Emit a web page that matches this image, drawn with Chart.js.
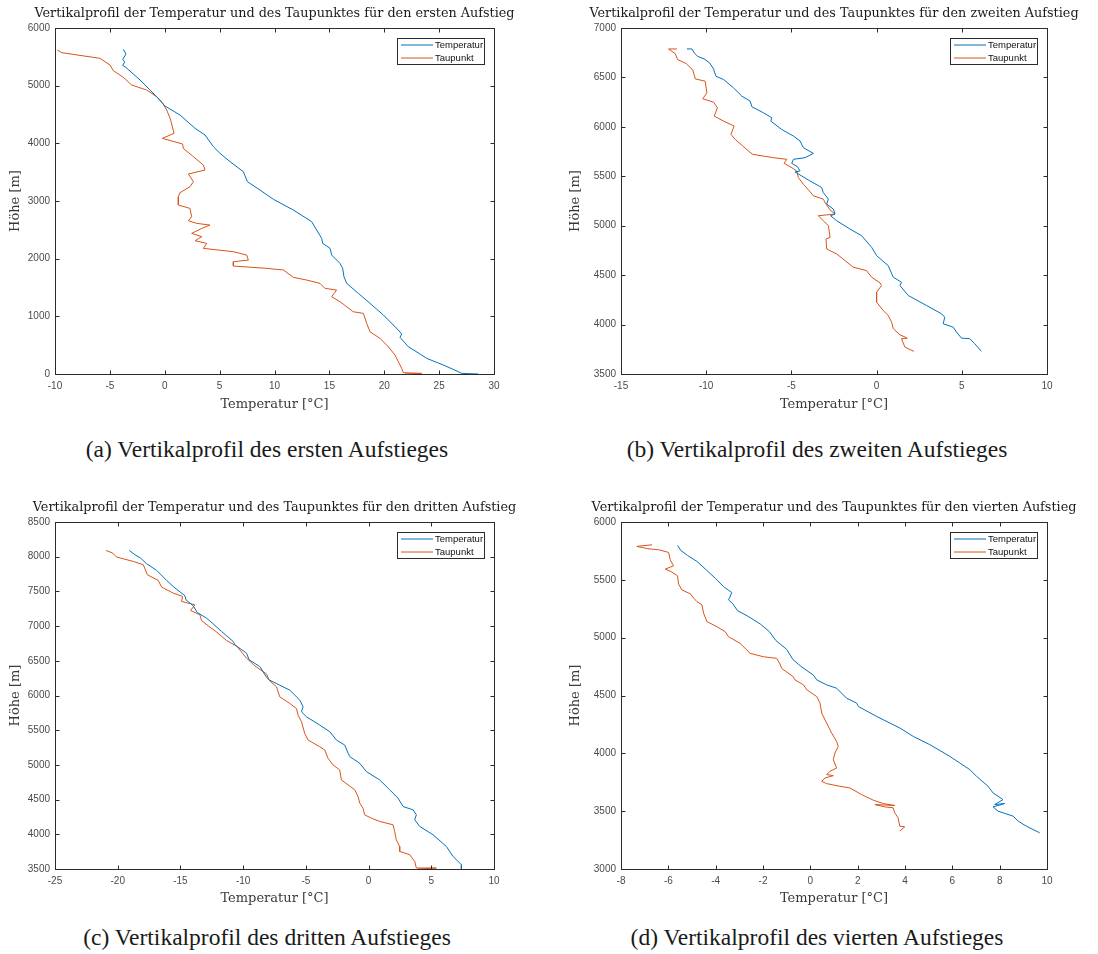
<!DOCTYPE html>
<html lang="de">
<head>
<meta charset="utf-8">
<title>Vertikalprofile der Aufstiege</title>
<script src="https://cdn.jsdelivr.net/npm/chart.js@4.4.1/dist/chart.umd.min.js"></script>
<style>
  html, body { margin: 0; padding: 0; background: #fff; }
  body { width: 1098px; height: 954px; position: relative; overflow: hidden; }
  canvas { position: absolute; }
  .caption {
    position: absolute; width: 500px; text-align: center; white-space: nowrap;
    font-family: "Liberation Serif", "Times New Roman", serif; font-size: 23.5px; color: #1a1a1a;
    line-height: 26px;
  }
</style>
</head>
<body>
<canvas id="plotA" width="550" height="420" style="left:0;top:0"></canvas>
<canvas id="plotB" width="538" height="420" style="left:560px;top:0"></canvas>
<canvas id="plotC" width="550" height="420" style="left:0;top:494px"></canvas>
<canvas id="plotD" width="538" height="420" style="left:560px;top:494px"></canvas>
<div class="caption" id="capA" style="left:17px;top:436px"></div>
<div class="caption" id="capB" style="left:567px;top:436px"></div>
<div class="caption" id="capC" style="left:17px;top:924px"></div>
<div class="caption" id="capD" style="left:567px;top:924px"></div>
<script>
// Profile data: [Temperatur in °C, Höhe in m], listed from the top of each ascent downwards.
const aufstieg1Temperatur = [[-3.77,5630],[-3.53,5549],[-3.83,5456],[-3.65,5410],[-3.83,5352],[-3.62,5329],[-2.25,5098],[-0.89,4838],[0.02,4647],[1.39,4491],[2.76,4260],[3.67,4144],[4.43,3942],[5.04,3826],[5.95,3682],[7.16,3508],[7.53,3335],[8.68,3190],[9.90,3029],[11.72,2843],[13.39,2641],[13.84,2496],[14.30,2352],[14.39,2265],[15.06,2179],[15.21,2063],[15.97,1918],[16.21,1832],[16.33,1687],[16.58,1572],[17.64,1398],[18.70,1225],[19.92,1023],[21.28,762],[21.59,693],[21.44,635],[22.19,473],[23.41,329],[23.87,271],[25.38,156],[26.75,40],[27.05,11],[28.57,0]];
const aufstieg1Taupunkt = [[-9.79,5618],[-9.39,5572],[-5.90,5474],[-4.99,5358],[-4.68,5260],[-3.77,5144],[-3.01,5011],[-1.65,4924],[-0.74,4809],[-0.28,4722],[0.18,4578],[0.54,4404],[0.84,4173],[-0.22,4086],[1.63,3988],[1.69,3913],[2.61,3768],[3.52,3624],[3.67,3537],[2.15,3468],[2.61,3335],[2.30,3248],[1.39,3144],[1.24,3074],[1.24,2930],[2.30,2872],[2.45,2728],[2.15,2658],[2.91,2612],[4.12,2583],[3.37,2525],[2.45,2439],[3.37,2381],[2.76,2311],[3.82,2265],[3.52,2179],[6.25,2121],[7.46,2063],[7.62,1976],[6.25,1947],[6.25,1872],[9.29,1832],[10.81,1803],[11.72,1676],[12.93,1629],[14.15,1572],[14.60,1485],[15.66,1456],[15.21,1340],[15.97,1254],[17.18,1080],[18.10,1051],[18.40,878],[18.70,734],[19.61,618],[20.37,473],[20.98,329],[21.28,213],[21.59,98],[21.74,23],[23.41,11],[21.89,0]];

const aufstieg2Temperatur = [[-11.13,6788],[-10.84,6788],[-10.70,6748],[-10.51,6714],[-10.12,6687],[-9.80,6647],[-9.57,6586],[-9.43,6512],[-8.98,6479],[-8.40,6395],[-7.91,6311],[-7.42,6260],[-7.32,6203],[-6.64,6142],[-6.15,6092],[-6.21,6058],[-5.57,5974],[-4.88,5907],[-4.49,5857],[-4.30,5789],[-3.71,5732],[-4.20,5688],[-4.88,5672],[-4.98,5631],[-4.65,5598],[-4.49,5554],[-4.79,5544],[-3.91,5453],[-3.22,5386],[-3.13,5336],[-2.83,5269],[-2.93,5219],[-2.54,5168],[-2.44,5118],[-2.70,5101],[-2.34,5050],[-1.56,4966],[-0.88,4899],[-0.29,4781],[0.00,4697],[0.68,4596],[0.98,4479],[1.46,4428],[1.37,4395],[1.86,4294],[2.93,4193],[3.81,4109],[4.00,4075],[3.91,4008],[4.49,3974],[4.69,3924],[4.98,3863],[5.47,3857],[5.76,3806],[6.15,3729]];
const aufstieg2Taupunkt = [[-11.72,6788],[-12.21,6788],[-11.82,6741],[-11.68,6681],[-11.17,6640],[-10.78,6573],[-10.64,6485],[-10.06,6462],[-9.96,6344],[-10.20,6284],[-9.57,6250],[-9.34,6193],[-9.53,6109],[-8.98,6058],[-8.36,6008],[-8.55,5924],[-8.30,5873],[-7.85,5806],[-7.52,5756],[-7.27,5722],[-6.05,5688],[-5.27,5672],[-5.43,5631],[-5.08,5598],[-4.69,5554],[-4.59,5487],[-4.30,5419],[-4.00,5362],[-3.71,5303],[-3.13,5269],[-2.97,5219],[-2.73,5160],[-2.44,5118],[-3.42,5101],[-3.13,5050],[-2.83,5000],[-2.73,4882],[-2.97,4865],[-2.93,4765],[-2.34,4714],[-1.85,4647],[-1.37,4580],[-0.59,4546],[-0.29,4479],[0.20,4422],[0.29,4395],[0.00,4327],[0.00,4227],[0.39,4142],[0.68,4092],[0.88,4025],[0.98,3958],[1.37,3897],[1.80,3863],[1.46,3857],[1.66,3772],[2.19,3729]];

const aufstieg3Temperatur = [[-19.08,8091],[-18.63,8029],[-18.18,7981],[-17.70,7899],[-16.90,7803],[-16.10,7658],[-15.52,7562],[-14.64,7437],[-14.56,7379],[-13.98,7293],[-13.66,7196],[-12.92,7115],[-12.39,7033],[-11.72,6922],[-10.79,6778],[-10.66,6730],[-9.73,6610],[-9.52,6514],[-8.67,6417],[-8.14,6263],[-7.87,6220],[-7.08,6148],[-6.28,6077],[-5.48,5933],[-5.22,5837],[-5.35,5765],[-4.95,5693],[-3.89,5574],[-3.09,5478],[-2.56,5358],[-1.90,5286],[-1.63,5167],[-1.50,5119],[-0.70,5023],[-0.17,4903],[0.89,4783],[1.69,4640],[2.35,4520],[2.75,4400],[3.55,4352],[3.81,4280],[3.68,4209],[4.08,4113],[5.14,3993],[6.20,3825],[6.73,3682],[7.40,3562],[7.40,3500]];
const aufstieg3Taupunkt = [[-20.94,8091],[-20.41,8053],[-20.09,7995],[-18.76,7932],[-17.96,7884],[-17.64,7740],[-16.77,7658],[-16.50,7562],[-15.57,7475],[-14.83,7427],[-14.91,7355],[-13.85,7307],[-14.19,7225],[-13.45,7163],[-13.32,7081],[-12.79,7004],[-12.17,6922],[-11.32,6792],[-10.48,6706],[-9.73,6538],[-9.07,6427],[-8.14,6311],[-7.93,6220],[-7.34,6125],[-7.08,5981],[-6.28,5885],[-5.75,5813],[-5.62,5717],[-5.35,5622],[-5.09,5454],[-4.82,5358],[-3.89,5262],[-3.49,5214],[-3.23,5095],[-2.83,4999],[-2.30,4927],[-2.17,4783],[-1.63,4712],[-1.10,4640],[-0.84,4544],[-0.70,4448],[-0.44,4376],[-0.31,4280],[0.23,4232],[0.89,4185],[1.95,4137],[2.08,4041],[2.21,3921],[2.48,3825],[2.48,3753],[3.28,3706],[3.68,3610],[3.81,3514],[5.40,3514],[3.94,3500]];

const aufstieg4Temperatur = [[-5.61,5798],[-5.47,5754],[-5.19,5711],[-4.79,5659],[-4.37,5581],[-4.02,5514],[-3.67,5442],[-3.32,5390],[-3.42,5341],[-3.46,5327],[-3.27,5292],[-3.08,5234],[-2.66,5188],[-2.12,5119],[-1.73,5052],[-1.45,4974],[-1.00,4899],[-0.74,4812],[-0.41,4754],[0.13,4676],[0.27,4635],[0.69,4592],[1.11,4563],[1.53,4477],[1.96,4434],[2.03,4405],[2.80,4319],[3.79,4218],[4.35,4146],[5.05,4075],[5.89,3974],[6.74,3859],[7.02,3802],[7.51,3715],[7.72,3658],[8.14,3600],[7.79,3557],[8.21,3566],[7.72,3537],[7.93,3500],[8.57,3457],[8.78,3414],[9.13,3370],[9.69,3313]];
const aufstieg4Taupunkt = [[-6.69,5803],[-7.33,5789],[-6.87,5769],[-6.41,5760],[-5.99,5737],[-5.92,5673],[-5.78,5621],[-6.13,5593],[-5.89,5572],[-5.61,5535],[-5.57,5465],[-5.43,5413],[-5.07,5379],[-4.93,5341],[-4.79,5312],[-4.58,5283],[-4.51,5211],[-4.37,5139],[-3.95,5095],[-3.60,5052],[-3.46,5009],[-2.97,4951],[-2.54,4864],[-1.98,4835],[-1.42,4821],[-1.28,4772],[-1.21,4734],[-0.72,4662],[-0.65,4635],[-0.29,4592],[-0.15,4549],[0.27,4491],[0.41,4434],[0.48,4348],[0.69,4261],[0.90,4175],[1.11,4103],[1.18,4060],[1.04,4003],[0.97,3945],[1.11,3873],[0.83,3845],[0.69,3816],[0.97,3807],[0.62,3787],[0.48,3758],[0.69,3738],[1.25,3715],[1.67,3701],[2.16,3644],[2.66,3595],[3.08,3566],[3.57,3549],[2.73,3557],[3.15,3537],[3.50,3529],[3.57,3485],[3.71,3442],[3.78,3370],[3.99,3365],[3.78,3327]];

// Axis ranges and tick spacing per ascent: [min, max, step]
const xBereiche = [[-10, 30, 5], [-15, 10, 5], [-25, 10, 5], [-8, 10, 2]];
const yBereiche = [[0, 6000, 1000], [3500, 7000, 500], [3500, 8500, 500], [3000, 6000, 500]];

const ordinalwoerter = ['ersten', 'zweiten', 'dritten', 'vierten'];
const buchstaben = ['a', 'b', 'c', 'd'];
const serienNamen = ['Temperatur', 'Taupunkt'];
const serienFarben = ['#0072BD', '#D95319'];
const xTitel = 'Temperatur [°C]';
const yTitel = 'Höhe [m]';

const profile = [
  [aufstieg1Temperatur, aufstieg1Taupunkt],
  [aufstieg2Temperatur, aufstieg2Taupunkt],
  [aufstieg3Temperatur, aufstieg3Taupunkt],
  [aufstieg4Temperatur, aufstieg4Taupunkt]
];

const AXIS_COLOR = '#2b2b2b';
const TICK_COLOR = '#4a4a4a';

// Title centred over the plot area
const plotTitle = {
  id: 'plotTitle',
  afterDraw(chart, args, opts) {
    const { ctx, chartArea: a } = chart;
    ctx.save();
    ctx.font = '12.8px "DejaVu Serif", serif';
    ctx.fillStyle = '#1a1a1a';
    ctx.textAlign = 'center';
    ctx.textBaseline = 'middle';
    ctx.fillText(opts.text, (a.left + a.right) / 2, a.top - 14);
    ctx.restore();
  }
};

// Boxed axes with inward tick marks on all four sides
const axesBox = {
  id: 'axesBox',
  afterDraw(chart) {
    const { ctx, chartArea: a, scales } = chart;
    const L = Math.round(a.left) + 0.5, R = Math.round(a.right) + 0.5;
    const T = Math.round(a.top) + 0.5, B = Math.round(a.bottom) + 0.5;
    const len = 4;
    ctx.save();
    ctx.strokeStyle = AXIS_COLOR;
    ctx.lineWidth = 1;
    ctx.beginPath();
    scales.x.ticks.forEach(t => {
      const px = Math.round(scales.x.getPixelForValue(t.value)) + 0.5;
      ctx.moveTo(px, B); ctx.lineTo(px, B - len);
      ctx.moveTo(px, T); ctx.lineTo(px, T + len);
    });
    scales.y.ticks.forEach(t => {
      const py = Math.round(scales.y.getPixelForValue(t.value)) + 0.5;
      ctx.moveTo(L, py); ctx.lineTo(L + len, py);
      ctx.moveTo(R, py); ctx.lineTo(R - len, py);
    });
    ctx.stroke();
    ctx.strokeRect(L, T, R - L, B - T);
    ctx.restore();
  }
};

// Boxed legend in the upper right corner of the plot area
const boxLegend = {
  id: 'boxLegend',
  afterDatasetsDraw(chart) {
    const { ctx, chartArea: a } = chart;
    const w = 87, h = 26;
    const x = Math.round(a.right) - 10 - w, y = Math.round(a.top) + 10;
    ctx.save();
    ctx.fillStyle = '#fff';
    ctx.fillRect(x, y, w, h);
    ctx.strokeStyle = AXIS_COLOR;
    ctx.lineWidth = 1;
    ctx.strokeRect(x + 0.5, y + 0.5, w, h);
    ctx.font = '9.5px "Liberation Sans", Arial, sans-serif';
    ctx.textBaseline = 'middle';
    chart.data.datasets.forEach((ds, i) => {
      const ly = y + 7 + i * 13;
      ctx.strokeStyle = ds.borderColor;
      ctx.beginPath();
      ctx.moveTo(x + 4, ly); ctx.lineTo(x + 36, ly);
      ctx.stroke();
      ctx.fillStyle = '#111';
      ctx.fillText(ds.label, x + 38, ly + 0.5);
    });
    ctx.restore();
  }
};

function makePlot(canvasId, idx, yAxisWidth, xAxisHeight) {
  const canvas = document.getElementById(canvasId);
  const [xmin, xmax, xstep] = xBereiche[idx];
  const [ymin, ymax, ystep] = yBereiche[idx];
  const rightPad = canvas.width - (yAxisWidth + (canvas.width === 550 ? 439 : 426));
  return new Chart(canvas, {
    type: 'scatter',
    data: {
      datasets: profile[idx].map((serie, i) => ({
        label: serienNamen[i],
        data: serie.map(([t, h]) => ({ x: t, y: h })),
        showLine: true,
        borderColor: serienFarben[i],
        borderWidth: 1,
        pointRadius: 0,
        pointHoverRadius: 0,
        fill: false,
        tension: 0
      }))
    },
    options: {
      responsive: false,
      animation: false,
      devicePixelRatio: 1,
      events: [],
      layout: { padding: { top: 28, right: rightPad, left: 0, bottom: 0 } },
      plugins: {
        legend: { display: false },
        tooltip: { enabled: false },
        plotTitle: { text: 'Vertikalprofil der Temperatur und des Taupunktes für den ' + ordinalwoerter[idx] + ' Aufstieg' }
      },
      scales: {
        x: {
          type: 'linear', min: xmin, max: xmax,
          grid: { display: false, drawTicks: false },
          border: { display: false },
          ticks: {
            stepSize: xstep, autoSkip: false, maxRotation: 0, padding: 6,
            color: TICK_COLOR, font: { family: '"Liberation Sans", Arial, sans-serif', size: 10 },
            callback: v => String(v)
          },
          title: {
            display: true, text: xTitel, color: '#3a3a3a',
            font: { family: '"DejaVu Serif", serif', size: 13 },
            padding: { top: 0, bottom: 8 }
          },
          afterFit: s => { s.height = xAxisHeight; }
        },
        y: {
          type: 'linear', min: ymin, max: ymax,
          grid: { display: false, drawTicks: false },
          border: { display: false },
          ticks: {
            stepSize: ystep, autoSkip: false, padding: 5,
            color: TICK_COLOR, font: { family: '"Liberation Sans", Arial, sans-serif', size: 10 },
            callback: v => String(v)
          },
          title: {
            display: true, text: yTitel, color: '#3a3a3a',
            font: { family: '"DejaVu Serif", serif', size: 13 },
            padding: { top: 8, bottom: 0 }
          },
          afterFit: s => { s.width = yAxisWidth; }
        }
      }
    },
    plugins: [boxLegend, axesBox, plotTitle]
  });
}

makePlot('plotA', 0, 55, 46);
makePlot('plotB', 1, 61, 46);
makePlot('plotC', 2, 55, 45);
makePlot('plotD', 3, 61, 45);

['capA', 'capB', 'capC', 'capD'].forEach((id, i) => {
  document.getElementById(id).textContent =
    '(' + buchstaben[i] + ') Vertikalprofil des ' + ordinalwoerter[i] + ' Aufstieges';
});
</script>
</body>
</html>
